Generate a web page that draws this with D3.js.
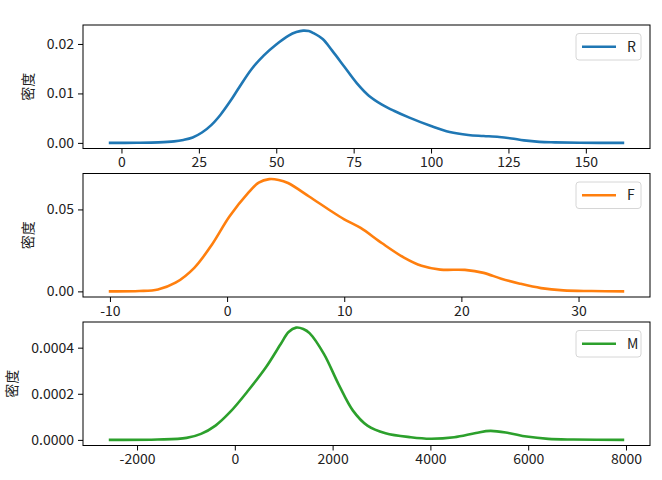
<!DOCTYPE html>
<html>
<head>
<meta charset="utf-8">
<script src="https://cdn.jsdelivr.net/npm/d3@7"></script>
<style>
  html, body { margin: 0; padding: 0; background: #fff; }
  svg text { font-family: "Noto Sans CJK SC", "DejaVu Sans", sans-serif; }
</style>
</head>
<body>
<svg id="chart" width="662" height="480"></svg>
<script>
// ---- Data (KDE curves) ----
const seriesNames = ["R", "F", "M"];
const seriesColors = ["#1f77b4", "#ff7f0e", "#2ca02c"];

const rX = [-4.1, 5, 12, 17, 20, 23, 26, 29, 32, 35, 38, 42, 46, 50, 54, 56.5, 58.7, 60.5, 62, 65, 68, 72, 76, 80, 84, 88, 93, 100, 106, 112, 117, 122, 126, 130, 135, 140, 148, 162.4];
const rY = [0, 0.00002, 0.0001, 0.0003, 0.0006, 0.0011, 0.0021, 0.0036, 0.0057, 0.0083, 0.0112, 0.0149, 0.0177, 0.0199, 0.0217, 0.0224, 0.0227, 0.0226, 0.0222, 0.0210, 0.0187, 0.0154, 0.0121, 0.0095, 0.0078, 0.0065, 0.0051, 0.0034, 0.0022, 0.0016, 0.0014, 0.0012, 0.0009, 0.0005, 0.0002, 0.0001, 0.00002, 0];

const fX = [-10.1, -7.5, -5.9, -4.4, -2.8, -1.3, 0.2, 1.8, 2.7, 3.6, 4.4, 5.2, 7.0, 8.9, 10, 11.4, 13.2, 15.1, 16.6, 18.2, 20.3, 21.9, 23.4, 25.0, 26.8, 28.7, 31.1, 33.9];
const fY = [0, 0.0002, 0.0012, 0.0053, 0.0144, 0.0285, 0.0457, 0.0601, 0.0664, 0.0685, 0.0680, 0.0661, 0.0579, 0.0489, 0.0440, 0.0387, 0.0295, 0.0206, 0.0156, 0.0133, 0.0131, 0.0113, 0.0077, 0.0047, 0.0020, 0.0006, 0.0002, 0];

const mX = [-2578, -1579, -987, -692, -395, -100, 270, 640, 936, 1100, 1254, 1400, 1528, 1824, 2120, 2416, 2712, 3082, 3599, 4000, 4487, 4931, 5227, 5597, 5966, 6410, 6928, 7964];
const mY = [0, 0.0000014, 0.0000086, 0.000026, 0.000062, 0.00012, 0.000213, 0.000316, 0.000415, 0.000468, 0.000487, 0.000481, 0.000463, 0.000372, 0.000242, 0.000127, 0.000062, 0.000029, 0.0000115, 0.000005, 0.0000115, 0.000030, 0.000039, 0.000030, 0.0000144, 0.0000043, 0.0000014, 0];

const rXTicks = [0, 25, 50, 75, 100, 125, 150];
const fXTicks = [-10, 0, 10, 20, 30];
const mXTicks = [-2000, 0, 2000, 4000, 6000, 8000];
const rYTicks = [0, 0.01, 0.02];
const fYTicks = [0, 0.05];
const mYTicks = [0, 0.0002, 0.0004];
const yTickFormats = [".2f", ".2f", ".4f"];
const yLabel = "密度";

// ---- Layout ----
const svg = d3.select("#chart");
const left = 83, right = 650;
const tops = [25, 173.5, 322];
const panelH = 123.5;

const panels = [
  { name: seriesNames[0], color: seriesColors[0], xs: rX, ys: rY, xt: rXTicks, yt: rYTicks, yf: yTickFormats[0] },
  { name: seriesNames[1], color: seriesColors[1], xs: fX, ys: fY, xt: fXTicks, yt: fYTicks, yf: yTickFormats[1] },
  { name: seriesNames[2], color: seriesColors[2], xs: mX, ys: mY, xt: mXTicks, yt: mYTicks, yf: yTickFormats[2] }
];

panels.forEach((p, i) => {
  const top = tops[i], bottom = top + panelH;
  const [x0, x1] = d3.extent(p.xs);
  const xpad = (x1 - x0) * 0.05;
  const [y0, y1] = d3.extent(p.ys);
  const ypad = (y1 - y0) * 0.05;

  const x = d3.scaleLinear().domain([x0 - xpad, x1 + xpad]).range([left, right]);
  const y = d3.scaleLinear().domain([y0 - ypad, y1 + ypad]).range([bottom, top]);

  const g = svg.append("g");

  // curve
  const data = p.xs.map((v, k) => [v, p.ys[k]]);
  g.append("path")
    .datum(data)
    .attr("fill", "none")
    .attr("stroke", p.color)
    .attr("stroke-width", 2.6)
    .attr("stroke-linejoin", "round")
    .attr("d", d3.line().x(d => x(d[0])).y(d => y(d[1])).curve(d3.curveCatmullRom.alpha(0.5)));

  // axes
  const xAxis = d3.axisBottom(x).tickValues(p.xt).tickSize(5).tickPadding(4)
    .tickFormat(d3.format("d"));
  const gx = g.append("g").attr("transform", `translate(0,${bottom})`).call(xAxis);
  const yAxis = d3.axisLeft(y).tickValues(p.yt).tickSize(5).tickPadding(4)
    .tickFormat(d3.format(p.yf));
  const gy = g.append("g").attr("transform", `translate(${left},0)`).call(yAxis);

  [gx, gy].forEach(ax => {
    ax.select(".domain").remove();
    ax.selectAll(".tick line").attr("stroke", "#000").attr("stroke-width", 1);
    ax.selectAll(".tick text").attr("fill", "#222").style("font-size", "14px")
      .style("font-family", "\"Noto Sans CJK SC\", sans-serif");
  });
  gx.selectAll(".tick text").text(d => String(d).replace("\u2212", "-"));

  // frame
  g.append("rect")
    .attr("x", left).attr("y", top)
    .attr("width", right - left).attr("height", panelH)
    .attr("fill", "none").attr("stroke", "#000").attr("stroke-width", 1);

  // y label (left of the widest tick label)
  let minX = Infinity;
  gy.selectAll(".tick text").each(function () {
    const b = this.getBBox();
    minX = Math.min(minX, left - 9 + b.x);
  });
  g.append("text")
    .attr("transform", `translate(${minX - 5},${(top + bottom) / 2}) rotate(-90)`)
    .attr("text-anchor", "middle")
    .style("font-size", "14px")
    .attr("fill", "#222")
    .text(yLabel);

  // legend
  const lx = 576, ly = top + 8.5, lw = 65, lh = 26.5;
  const lg = g.append("g");
  lg.append("rect")
    .attr("x", lx).attr("y", ly).attr("width", lw).attr("height", lh)
    .attr("rx", 3).attr("ry", 3)
    .attr("fill", "#fff").attr("fill-opacity", 0.8)
    .attr("stroke", "#d6d6d6").attr("stroke-width", 1);
  lg.append("line")
    .attr("x1", lx + 6).attr("x2", lx + 40)
    .attr("y1", ly + lh / 2).attr("y2", ly + lh / 2)
    .attr("stroke", p.color).attr("stroke-width", 2.6);
  lg.append("text")
    .attr("x", lx + 51).attr("y", ly + lh / 2)
    .attr("dy", "0.35em")
    .style("font-size", "14px")
    .attr("fill", "#222")
    .text(p.name);
});
</script>
</body>
</html>
